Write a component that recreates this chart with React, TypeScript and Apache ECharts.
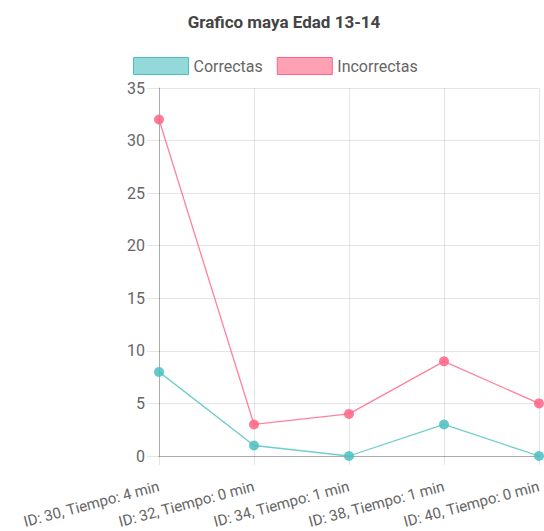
import React, { useEffect, useRef } from "react";
import * as echarts from "echarts";

const categories = [
  "ID: 30, Tiempo: 4 min",
  "ID: 32, Tiempo: 0 min",
  "ID: 34, Tiempo: 1 min",
  "ID: 38, Tiempo: 1 min",
  "ID: 40, Tiempo: 0 min",
];
const correctas = [8, 1, 0, 3, 0];
const incorrectas = [32, 3, 4, 9, 5];

const TEAL = "rgb(75,192,192)";
const PINK = "rgb(255,99,132)";

export default function App() {
  const ref = useRef<HTMLDivElement>(null);
  useEffect(() => {
    if (!ref.current) return;
    const chart = echarts.init(ref.current, undefined, { renderer: "svg" });
    chart.setOption({
      animation: false,
      title: {
        text: "Grafico maya Edad 13-14",
        left: 279,
        textAlign: "center",
        top: 8,
        textStyle: { fontFamily: "Roboto", fontSize: 17, fontWeight: "bold", color: "#444" },
      },
      legend: {
        top: 52,
        left: 128,
        itemWidth: 55,
        itemHeight: 17,
        itemGap: 14,
        textStyle: { fontFamily: "Roboto", fontSize: 16, color: "#666" },
        data: [
          { name: "Correctas", icon: "rect", itemStyle: { color: "rgba(75,192,192,0.6)", borderColor: TEAL, borderWidth: 1 } },
          { name: "Incorrectas", icon: "rect", itemStyle: { color: "rgba(255,99,132,0.6)", borderColor: PINK, borderWidth: 1 } },
        ],
      },
      grid: { left: 159, right: 5, top: 88, bottom: 75, containLabel: false, outerBoundsMode: "none" },
      xAxis: {
        type: "category",
        data: categories,
        boundaryGap: false,
        axisLine: { lineStyle: { color: "rgba(0,0,0,0.25)" } },
        axisTick: { show: true, length: 9, lineStyle: { color: "rgba(0,0,0,0.1)" } },
        splitLine: { show: true, lineStyle: { color: "rgba(0,0,0,0.1)" } },
        axisLabel: { rotate: 15, fontFamily: "Roboto", fontSize: 15, color: "#666", margin: 30 },
      },
      yAxis: {
        type: "value",
        min: 0,
        max: 35,
        interval: 5,
        axisLine: { show: true, lineStyle: { color: "rgba(0,0,0,0.25)" } },
        axisTick: { show: true, length: 12, lineStyle: { color: "rgba(0,0,0,0.1)" } },
        splitLine: { show: true, lineStyle: { color: "rgba(0,0,0,0.1)" } },
        axisLabel: { fontFamily: "Roboto", fontSize: 16, color: "#666", margin: 14 },
      },
      series: [
        {
          name: "Correctas",
          type: "line",
          data: correctas,
          symbol: "circle",
          symbolSize: 10,
          lineStyle: { color: TEAL, width: 1.3, opacity: 0.8 },
          itemStyle: { color: "rgba(75,192,192,0.85)" },
        },
        {
          name: "Incorrectas",
          type: "line",
          data: incorrectas,
          symbol: "circle",
          symbolSize: 10,
          lineStyle: { color: PINK, width: 1.3, opacity: 0.8 },
          itemStyle: { color: "rgba(255,99,132,0.85)" },
        },
      ],
    });
    return () => chart.dispose();
  }, []);
  return <div ref={ref} style={{ width: 544, height: 531, position: "absolute", left: 0, top: 0 }} />;
}
